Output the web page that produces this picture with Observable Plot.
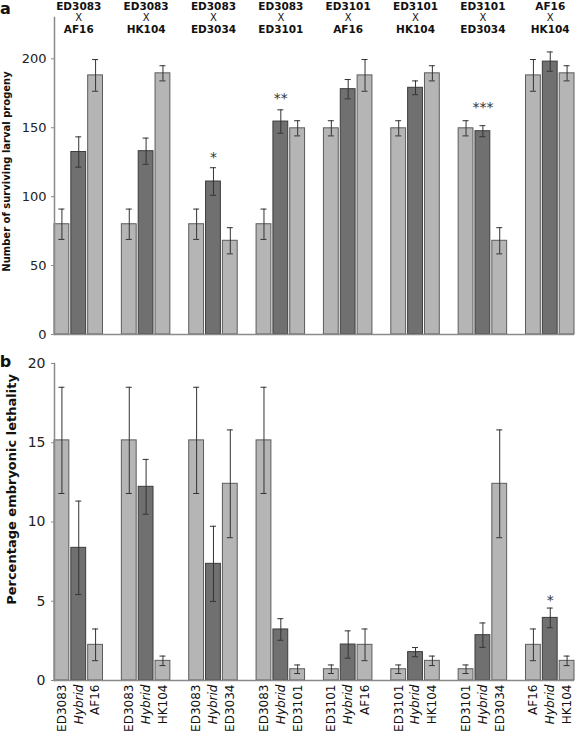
<!DOCTYPE html>
<html>
<head>
<meta charset="utf-8">
<script src="https://cdn.jsdelivr.net/npm/d3@7"></script>
<script src="https://cdn.jsdelivr.net/npm/@observablehq/plot@0.6"></script>
<style>
  html, body { margin: 0; padding: 0; background: #fff; }
  #chart svg { display: block; }
</style>
</head>
<body>
<div id="chart"></div>
<script>
// ---- data ----
const parent1 = ["ED3083","ED3083","ED3083","ED3083","ED3101","ED3101","ED3101","AF16"];
const parent2 = ["AF16","HK104","ED3034","ED3101","AF16","HK104","ED3034","HK104"];
const hybridLabel = "Hybrid";

// (a) number of surviving larval progeny
const progenyP1    = [80, 80, 80, 80, 149.6, 149.6, 149.6, 188];
const progenyP1Err = [11, 11, 11, 11, 5.5, 5.5, 5.5, 11.5];
const progenyHyb    = [132.4, 133, 111, 154.5, 178, 179, 147.5, 198];
const progenyHybErr = [11, 9.5, 10, 8.5, 7, 5, 4, 7];
const progenyP2    = [188, 189.5, 68, 149.6, 188, 189.5, 68, 189.5];
const progenyP2Err = [11.5, 5.5, 9.5, 5.5, 11.5, 5.5, 9.5, 5.5];
const progenySig = ["", "", "*", "**", "", "", "***", ""];
const progenyTicks = [0, 50, 100, 150, 200];

// (b) percentage embryonic lethality
const lethP1    = [15.15, 15.15, 15.15, 15.15, 0.71, 0.71, 0.71, 2.25];
const lethP1Err = [3.35, 3.35, 3.35, 3.35, 0.27, 0.27, 0.27, 1.0];
const lethHyb    = [8.37, 12.22, 7.36, 3.22, 2.27, 1.79, 2.86, 3.95];
const lethHybErr = [2.95, 1.73, 2.37, 0.68, 0.86, 0.29, 0.77, 0.62];
const lethP2    = [2.25, 1.24, 12.41, 0.71, 2.25, 1.24, 12.41, 1.24];
const lethP2Err = [1.0, 0.3, 3.4, 0.27, 1.0, 0.3, 3.4, 0.3];
const lethSig = ["", "", "", "", "", "", "", "*"];
const lethTicks = [0, 5, 10, 15, 20];

const titleA = "Number of surviving larval progeny";
const titleB = "Percentage embryonic lethality";

// ---- build tables ----
const roles = ["p1", "hyb", "p2"];
const xDomain = [];
parent1.forEach((_, i) => {
  roles.forEach(r => xDomain.push(`${i}-${r}`));
  if (i < parent1.length - 1) xDomain.push(`${i}-gap`);
});

function buildRows(p1, p1e, hy, hye, p2, p2e, sig) {
  const rows = [];
  parent1.forEach((_, i) => {
    rows.push({key: `${i}-p1`, role: "p1", label: parent1[i], value: p1[i], err: p1e[i], sig: ""});
    rows.push({key: `${i}-hyb`, role: "hyb", label: hybridLabel, value: hy[i], err: hye[i], sig: sig[i]});
    rows.push({key: `${i}-p2`, role: "p2", label: parent2[i], value: p2[i], err: p2e[i], sig: ""});
  });
  return rows;
}
const rowsA = buildRows(progenyP1, progenyP1Err, progenyHyb, progenyHybErr, progenyP2, progenyP2Err, progenySig);
const rowsB = buildRows(lethP1, lethP1Err, lethHyb, lethHybErr, lethP2, lethP2Err, lethSig);
const crosses = parent1.map((p, i) => ({key: `${i}-hyb`, p1: p, p2: parent2[i]}));

const FONT = "DejaVu Sans, Verdana, sans-serif";
const fillFor = d => d.role === "hyb" ? "#707070" : "#b5b5b5";
const strokeFor = d => d.role === "hyb" ? "#3c3c3c" : "#5c5c5c";
const AXIS = "#8a8a8a";

function barMarks(rows) {
  return [
    Plot.barY(rows, {x: "key", y: "value", fill: fillFor, stroke: strokeFor, strokeWidth: 1}),
    Plot.ruleX(rows, {x: "key", y1: d => d.value - d.err, y2: d => d.value + d.err, stroke: "#333", strokeWidth: 1}),
    Plot.tickY(rows, {x: "key", y: d => d.value + d.err, stroke: "#333", strokeWidth: 1, insetLeft: 4.4, insetRight: 4.4}),
    Plot.tickY(rows, {x: "key", y: d => d.value - d.err, stroke: "#333", strokeWidth: 1, insetLeft: 4.4, insetRight: 4.4})
  ];
}

const xScale = {domain: xDomain, paddingInner: 0.12, paddingOuter: 0, round: false, axis: null};

// ---- panel a ----
const chartA = Plot.plot({
  width: 575, height: 340,
  marginLeft: 54, marginRight: 1, marginTop: 17, marginBottom: 6,
  style: {fontFamily: FONT, background: "#fff", overflow: "visible"},
  x: xScale,
  y: {domain: [0, 230], axis: null},
  marks: [
    ...barMarks(rowsA),
    Plot.ruleY([0], {stroke: AXIS, strokeWidth: 1.5}),
    Plot.frame({anchor: "left", stroke: AXIS, strokeWidth: 1.5}),
    Plot.axisY({ticks: progenyTicks, tickSize: 3, tickPadding: 5, fontSize: 13, stroke: AXIS, fill: "#222", label: null}),
    Plot.text(rowsA.filter(d => d.sig), {x: "key", y: "value", text: "sig", dy: -23.5, fontSize: 14, fill: "#333"}),
    Plot.text(crosses, {x: "key", text: "p1", frameAnchor: "top", lineAnchor: "middle", dy: -11, fontSize: 10.5, fontWeight: "bold", fill: "#111"}),
    Plot.text(crosses, {x: "key", text: () => "X", frameAnchor: "top", lineAnchor: "middle", dy: 0.5, fontSize: 10, fill: "#111"}),
    Plot.text(crosses, {x: "key", text: "p2", frameAnchor: "top", lineAnchor: "middle", dy: 12, fontSize: 10.5, fontWeight: "bold", fill: "#111"}),
    Plot.text([titleA], {frameAnchor: "left", text: d => d, rotate: -90, textAnchor: "middle", lineAnchor: "middle", dx: -48, dy: -4.5, fontSize: 10, fontWeight: "bold", fill: "#111"}),
    Plot.text(["a"], {frameAnchor: "top-left", text: d => d, textAnchor: "middle", lineAnchor: "middle", dx: -49, dy: -9, fontSize: 16, fontWeight: "bold", fill: "#111"})
  ]
});

// ---- panel b ----
const chartB = Plot.plot({
  width: 575, height: 392,
  marginLeft: 54, marginRight: 1, marginTop: 23, marginBottom: 52,
  style: {fontFamily: FONT, background: "#fff", overflow: "visible"},
  x: xScale,
  y: {domain: [0, 20], axis: null},
  marks: [
    ...barMarks(rowsB),
    Plot.ruleY([0], {stroke: AXIS, strokeWidth: 1.5}),
    Plot.frame({anchor: "left", stroke: AXIS, strokeWidth: 1.5}),
    Plot.axisY({ticks: lethTicks, tickSize: 3, tickPadding: 6, fontSize: 14, stroke: AXIS, fill: "#222", label: null}),
    Plot.text(rowsB.filter(d => d.sig), {x: "key", y: "value", text: "sig", dy: -17.5, fontSize: 14, fill: "#333"}),
    Plot.text(rowsB.filter(d => d.role !== "hyb"), {x: "key", text: "label", frameAnchor: "bottom", rotate: -90, textAnchor: "end", lineAnchor: "middle", dy: 4, fontSize: 12, fill: "#111"}),
    Plot.text(rowsB.filter(d => d.role === "hyb"), {x: "key", text: "label", frameAnchor: "bottom", rotate: -90, textAnchor: "end", lineAnchor: "middle", dy: 4, fontSize: 12, fontStyle: "italic", fill: "#111"}),
    Plot.text([titleB], {frameAnchor: "left", text: d => d, rotate: -90, textAnchor: "middle", lineAnchor: "middle", dx: -43, dy: -32.5, fontSize: 13, fontWeight: "bold", fill: "#111"}),
    Plot.text(["b"], {frameAnchor: "top-left", text: d => d, textAnchor: "middle", lineAnchor: "middle", dx: -49, dy: -2, fontSize: 16, fontWeight: "bold", fill: "#111"})
  ]
});

document.getElementById("chart").append(chartA, chartB);
</script>
</body>
</html>
